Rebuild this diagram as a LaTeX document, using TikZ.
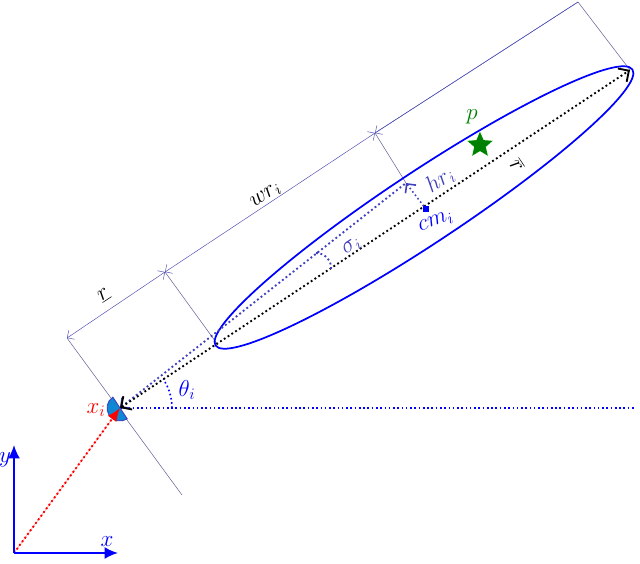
\documentclass[tikz,border=0pt]{standalone}
\usetikzlibrary{arrows.meta,shapes.geometric,calc}
\begin{document}
\begin{tikzpicture}[x=0.75pt,y=-0.75pt,
  dim/.style={draw=blue!40!gray,line width=0.35pt},
  dimarr/.style={dim,{Straight Barb[length=4pt]}-{Straight Barb[length=4pt]}},
  perp/.style={draw=gray!80!blue,line width=0.4pt},
  lab/.style={inner sep=1pt,font=\LARGE}]
\useasboundingbox (0,0) rectangle (640,564);
\def\ang{33.5}
\coordinate (O) at (14,553);
\coordinate (R) at (120,408);
\coordinate (T) at (630,70);
\coordinate (S) at (218,345);
\coordinate (C) at ($(S)!0.5!(T)$);
\coordinate (H) at (406,183);
\coordinate (M) at (426,209);
\coordinate (D0) at (67,338);
\coordinate (D1) at (165,272);
\coordinate (D2) at (375,133);
\coordinate (D3) at (578,2);
\coordinate (P0) at (182,495);
\draw[perp] (D0) -- (P0);
\draw[perp] (D1) -- (S);
\draw[perp] (D2) -- (H);
\draw[perp] (D3) -- (T);
\draw[dimarr] (D0) -- (D1);
\draw[dimarr] (D1) -- (D2);
\draw[dim] (D2) -- (D3);
\draw[dim,-{Straight Barb[length=4pt]}] (D3) -- (D2);
\draw[blue,line width=1.2pt,dotted] (R) -- (636,408);
\draw[blue,line width=1.2pt,dotted] ($(R)+(52,0)$) arc[start angle=0,end angle=-\ang,radius=52];
\node[lab,blue] (th) at (187,390) {$\theta_i$};
\draw[blue,line width=1.3pt,rotate around={\ang:(C)}] (C) ellipse[x radius=250,y radius=36];
\draw[blue!50!gray,line width=1.4pt,dotted,{Straight Barb[length=5pt]}-] (R) -- (H);
\draw[black,line width=1.4pt,dotted,{Straight Barb[length=6pt]}-{Straight Barb[length=6pt]}] (R) -- (T);
\draw[blue!50!gray,line width=1.4pt,dotted] (316,253) to[bend left=50] (331,270);
\node[lab,blue!50!gray,rotate=\ang] (sg) at (352,247) {$\sigma_i$};
\draw[blue!50!gray,line width=1.2pt,dotted,{Straight Barb[length=5pt]}-] (H) -- (M);
\fill[blue] (M) +(-3,-3) rectangle +(3,3);
\node[lab,blue!50!gray,rotate=\ang] (hr) at (440,180) {$hr_i$};
\node[lab,blue,rotate=20] (cm) at (436,222) {$cm_i$};
\node[lab,rotate=\ang] (wr) at (266,196) {$wr_i$};
\node[lab,rotate=\ang] (rl) at (104,295) {$\underline{r}$};
\node[lab,rotate=-56] (rb) at (517,165) {$\overline{r}$};
\node[star,star points=5,star point ratio=2.2,fill=green!50!black,draw=green!70,minimum size=20pt,inner sep=0pt,dotted] (p) at (480,145) {};
\node[lab,green!50!black] (pl) at (472,117) {$p$};
\draw[red!40,line width=0.4pt] (O) -- (R);
\begin{scope}[shift={(R)},rotate=\ang]
\fill[cyan!70!blue,draw=blue!50!gray,line width=0.7pt] (0,-13) arc[start angle=-90,end angle=-270,radius=13] -- cycle;
\end{scope}
\draw[red,line width=1.4pt,dotted,-{Latex[length=10pt,width=8pt]}] (O) -- (R);
\node[lab,red] (xi) at (96,410) {$x_i$};
\draw[blue,line width=1.6pt,-{Latex[length=10pt,width=9pt]}] (O) -- (14,445);
\draw[blue,line width=1.6pt,-{Latex[length=10pt,width=9pt]}] (O) -- (118,553);
\node[lab,blue] (yl) at (5,460) {$y$};
\node[lab,blue] (xl) at (107,542) {$x$};
\end{tikzpicture}
\end{document}
